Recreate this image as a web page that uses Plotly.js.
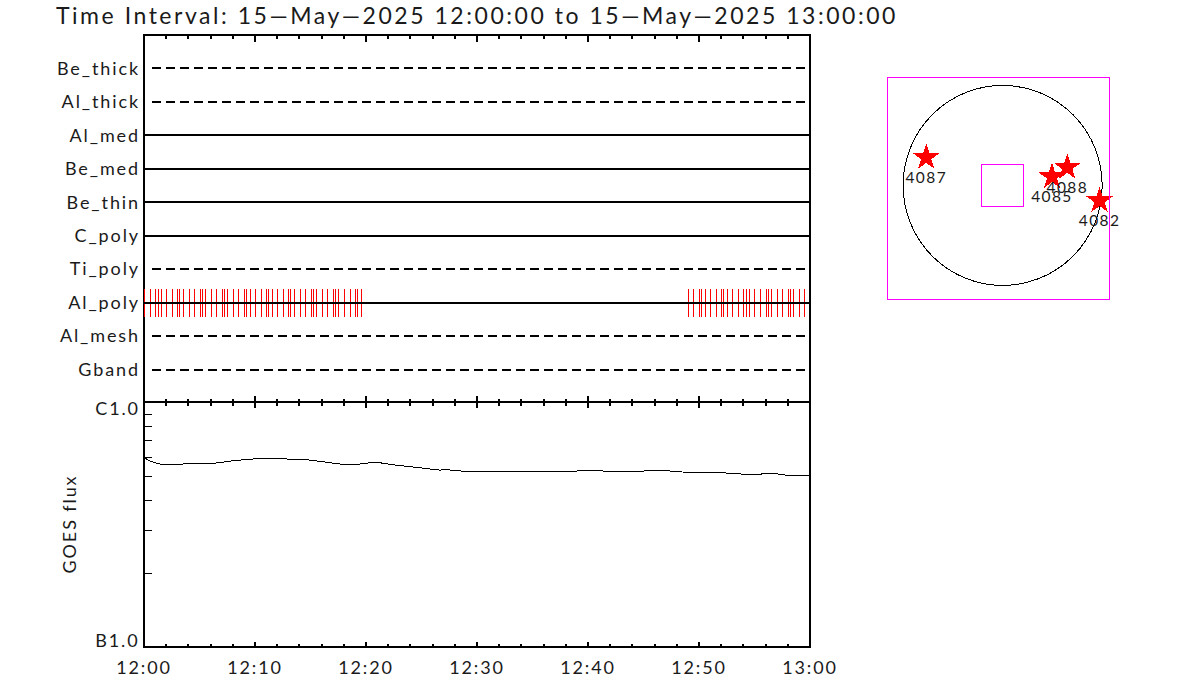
<!DOCTYPE html>
<html><head><meta charset="utf-8">
<script src="https://cdn.plot.ly/plotly-3.0.1.min.js"></script>
<style>
html,body{margin:0;padding:0;background:#fff}
#chart{width:1200px;height:700px}
#chart text{letter-spacing:1.9px}
#chart .gtitle{letter-spacing:2.53px}
#chart .textpoint text{letter-spacing:1.4px}
#chart .xtick text{letter-spacing:2.4px}
#chart path{shape-rendering:crispEdges}
</style></head><body><div id="chart"></div>
<script>
// ---- data ----
const TITLE = 'Time Interval: 15\u2014May\u20142025 12:00:00 to 15\u2014May\u20142025 13:00:00';
const DAY = '2025-05-15';
const filters = ['Be_thick','Al_thick','Al_med','Be_med','Be_thin','C_poly','Ti_poly','Al_poly','Al_mesh','Gband'];
const filterDashed = [true,true,false,false,false,false,true,false,true,true];
const activeFilter = 'Al_poly';
const dashedStartMinute = 0.72;
// exposure times, minutes after 12:00
const exposureMinutes = [0.05,0.59,1.04,1.31,1.58,2.03,2.57,3.02,3.2,3.56,4.1,4.55,5.09,5.27,5.54,6.08,6.53,7.07,7.25,7.52,8.06,8.51,9.05,9.23,9.59,10.05,10.59,11.04,11.22,11.58,12.03,12.57,13.02,13.2,13.56,14.1,14.55,15.09,15.27,15.54,16.08,16.53,17.07,17.25,17.52,18.06,18.6,19.05,19.23,19.59,
 49.05,49.5,50.05,50.23,50.59,51.04,51.58,52.03,52.21,52.57,53.02,53.56,54.01,54.28,54.55,55,55.54,56.08,56.26,56.53,57.07,57.52,58.06,58.24,58.51,59.05,59.5,60.14];
const goesMinutes = [0,0.54,1.44,2.79,4.14,6.4,8.2,10.45,14.5,16.3,18.1,19.46,20.8,22.6,24.86,26.67,27.1,28.65,32.5,33.87,35.2,36.6,38.8,40.2,41.5,42.9,44.7,45.6,46.9,48.3,50.1,52.3,53.7,54.6,55.7,56.8,57.7,60];
const goesFlux = [5.98e-7,5.78e-7,5.62e-7,5.59e-7,5.65e-7,5.67e-7,5.81e-7,5.93e-7,5.87e-7,5.73e-7,5.59e-7,5.62e-7,5.73e-7,5.57e-7,5.41e-7,5.31e-7,5.34e-7,5.26e-7,5.24e-7,5.22e-7,5.24e-7,5.22e-7,5.26e-7,5.29e-7,5.26e-7,5.22e-7,5.24e-7,5.31e-7,5.29e-7,5.22e-7,5.17e-7,5.17e-7,5.12e-7,5.07e-7,5.12e-7,5.14e-7,5.07e-7,5.02e-7];
const fluxTickVals = [1e-7,1e-6];
const fluxTickText = ['B1.0','C1.0'];
const fluxMinorVals = [2e-7,3e-7,4e-7,5e-7,6e-7,7e-7,8e-7,9e-7];
const regionNames = ['4087','4088','4085','4082'];
const regionX = [-729,617,471,925];
const regionY = [265,171,82,-145];
const solarRadius = 950;
const fovHalf = 200;
const sunRangeX = [-1094,1015];
const sunRangeY = [-1079,1020.5];

// ---- helpers ----
const W = 1200, H = 700;
function minuteToDate(m){ const ms = 12*3600000 + m*60000; return DAY+' '+new Date(ms).toISOString().slice(11,23); }
const t0 = DAY+' 12:00:00', t1 = DAY+' 13:00:00';
const FONT = 'Lato, "Liberation Sans", sans-serif';
const INK = '#1a1a1a';
const rowOf = f => filters.length - filters.indexOf(f);
const xDom = [144/W,810/W], yTop = [(H-403)/H,(H-35)/H], yLow = [(H-647)/H,(H-403)/H];

const traces = [];
const ex=[], ey=[];
exposureMinutes.forEach(m=>{ const d=minuteToDate(m), r=rowOf(activeFilter); ex.push(d,d,null); ey.push(r-0.42,r+0.42,null); });
traces.push({x:ex,y:ey,xaxis:'x',yaxis:'y',mode:'lines',line:{color:'#ff0000',width:1},hoverinfo:'skip',cliponaxis:false,showlegend:false});
filters.forEach((f,i)=>{ traces.push({x:[filterDashed[i]?minuteToDate(dashedStartMinute):t0,t1],y:[rowOf(f),rowOf(f)],xaxis:'x',yaxis:'y',mode:'lines',name:f,
  line:{color:'#000',width:2,dash:filterDashed[i]?'9px,5px':'solid'},showlegend:false}); });
traces.push({x:goesMinutes.map(minuteToDate),y:goesFlux,xaxis:'x2',yaxis:'y2',mode:'lines',line:{color:'#000',width:1},showlegend:false});
traces.push({x:regionX,y:regionY,text:regionNames,xaxis:'x3',yaxis:'y3',mode:'markers+text',textposition:'bottom center',
  marker:{symbol:'star',size:20,color:'#ff0000',line:{width:0}},textfont:{family:FONT,size:15.5,color:INK},cliponaxis:false,showlegend:false});

const timeAxis = (major,minor)=>({type:'date',range:[t0,t1],showgrid:false,zeroline:false,showline:false,mirror:'ticks',
  ticks:'inside',ticklen:major,tickwidth:2,tickcolor:'#000',dtick:600000,tick0:t0,tickformat:'%H:%M',
  minor:{dtick:120000,tick0:t0,ticks:'inside',ticklen:minor,tickwidth:2,tickcolor:'#000',showgrid:false}});
const frame = (x,y)=>({type:'rect',xref:'paper',yref:'paper',x0:x[0],x1:x[1],y0:y[0],y1:y[1],line:{color:'#000',width:2},layer:'below'});
const layout = {
  width:W,height:H,paper_bgcolor:'#fff',plot_bgcolor:'rgba(0,0,0,0)',showlegend:false,
  margin:{l:0,r:0,t:0,b:0},font:{family:FONT,color:INK,size:18},
  title:{text:TITLE,font:{family:FONT,size:23,color:INK},xref:'paper',yref:'paper',x:56/W,xanchor:'left',y:1-16/H,yanchor:'middle'},
  xaxis:Object.assign(timeAxis(7,4),{domain:xDom,anchor:'y',showticklabels:false}),
  yaxis:{domain:yTop,anchor:'x',range:[0,filters.length+1],showgrid:false,zeroline:false,showline:false,
    tickmode:'array',tickvals:filters.map(rowOf),ticktext:filters,ticks:'',ticklabelstandoff:3,tickfont:{family:FONT,size:18,color:INK}},
  xaxis2:Object.assign(timeAxis(5,3),{domain:xDom,anchor:'y2',tickfont:{family:FONT,size:18,color:INK},ticklabelstandoff:8}),
  yaxis2:{domain:yLow,anchor:'x2',type:'log',range:[-7,-6],showgrid:false,zeroline:false,showline:false,mirror:'ticks',
    tickmode:'array',tickvals:fluxTickVals,showticklabels:false,ticks:'',
    minor:{tickmode:'array',tickvals:fluxMinorVals,ticks:'inside',ticklen:8,tickwidth:1,tickcolor:'#000',showgrid:false}},
  xaxis3:{domain:[888/W,1109/W],anchor:'y3',range:sunRangeX,showticklabels:false,ticks:'',showgrid:false,zeroline:false,showline:true,linecolor:'#ff00ff',linewidth:1,mirror:true},
  yaxis3:{domain:[(H-299)/H,(H-78)/H],anchor:'x3',range:sunRangeY,showticklabels:false,ticks:'',showgrid:false,zeroline:false,showline:true,linecolor:'#ff00ff',linewidth:1,mirror:true},
  shapes:[
    frame(xDom,[(H-402)/H,(H-35)/H]),
    frame(xDom,[(H-647)/H,(H-402)/H]),
    {type:'circle',xref:'x3',yref:'y3',x0:-solarRadius,x1:solarRadius,y0:-solarRadius,y1:solarRadius,line:{color:'#000',width:1},layer:'below'},
    {type:'rect',xref:'x3',yref:'y3',x0:-fovHalf,x1:fovHalf,y0:-fovHalf,y1:fovHalf,line:{color:'#ff00ff',width:1},layer:'below'}
  ],
  annotations:fluxTickVals.map((v,i)=>({xref:'paper',yref:'y2',x:138/W,y:Math.log10(v),text:fluxTickText[i],showarrow:false,xanchor:'right',yanchor:'middle',
    yshift:i===0?7:-5,font:{family:FONT,size:18,color:INK}})).concat([
    {xref:'paper',yref:'paper',x:69/W,y:(H-524)/H,text:'GOES flux',textangle:-90,showarrow:false,xanchor:'center',yanchor:'middle',font:{family:FONT,size:18,color:INK}}
  ])
};
Plotly.newPlot('chart',traces,layout,{displayModeBar:false,staticPlot:true});
</script></body></html>
